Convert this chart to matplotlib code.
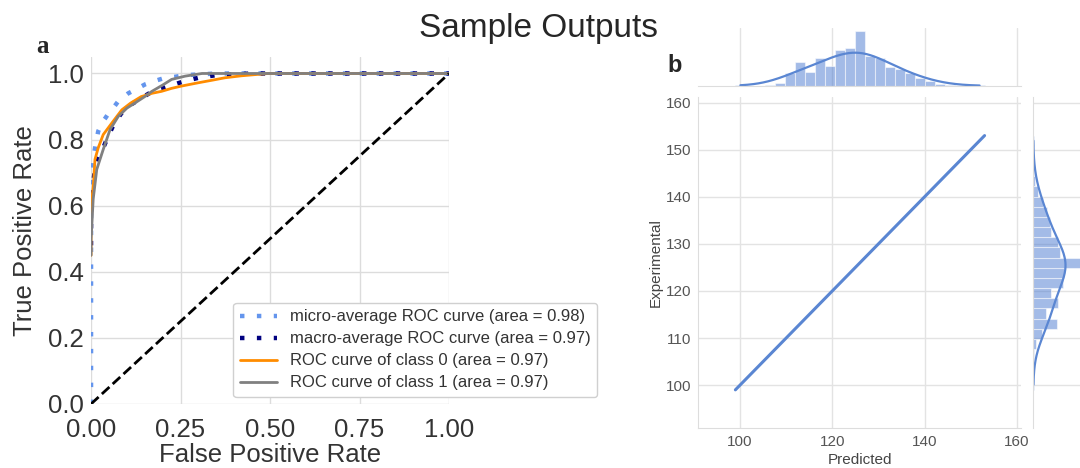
import numpy as np
import seaborn as sns
from matplotlib import pyplot as plt

sns.set_style('whitegrid')
plt.rcParams['font.family'] = ['Liberation Sans', 'DejaVu Sans']

# --- panel a : ROC curves ---
micro_fpr = [0.0, 0.0, 0.0, 0.004, 0.006, 0.012, 0.02, 0.03, 0.04, 0.053, 0.065, 0.076,
             0.09, 0.104, 0.125, 0.151, 0.18, 0.207, 0.235, 0.263, 0.3, 0.35, 0.45, 1.0]
micro_tpr = [0.0, 0.5, 0.62, 0.69, 0.74, 0.78, 0.825, 0.85, 0.865, 0.886, 0.9, 0.916,
             0.928, 0.94, 0.952, 0.967, 0.978, 0.987, 0.99, 0.995, 0.997, 1.0, 1.0, 1.0]

macro_fpr = [0.0, 0.0, 0.005, 0.011, 0.02, 0.03, 0.048, 0.065, 0.085, 0.11, 0.14, 0.17,
             0.2, 0.253, 0.3, 0.35, 0.45, 1.0]
macro_tpr = [0.48, 0.6, 0.66, 0.71, 0.74, 0.765, 0.81, 0.85, 0.88, 0.905, 0.925, 0.945,
             0.955, 0.974, 0.987, 0.995, 1.0, 1.0]

c0_fpr = [0.0, 0.0, 0.003, 0.006, 0.011, 0.02, 0.034, 0.058, 0.086, 0.11, 0.14, 0.17,
          0.197, 0.225, 0.253, 0.3, 0.34, 0.374, 0.42, 0.495, 1.0]
c0_tpr = [0.45, 0.6, 0.63, 0.654, 0.74, 0.775, 0.815, 0.85, 0.89, 0.91, 0.93, 0.94,
          0.946, 0.955, 0.962, 0.972, 0.98, 0.987, 0.993, 1.0, 1.0]

c1_fpr = [0.0, 0.0, 0.002, 0.006, 0.016, 0.034, 0.053, 0.076, 0.1, 0.123, 0.15, 0.17,
          0.2, 0.225, 0.263, 0.31, 1.0]
c1_tpr = [0.45, 0.5, 0.537, 0.62, 0.71, 0.77, 0.83, 0.87, 0.895, 0.911, 0.93, 0.946,
          0.965, 0.982, 0.992, 1.0, 1.0]

auc_micro, auc_macro, auc_c0, auc_c1 = 0.98, 0.97, 0.97, 0.97

# --- panel b : predicted vs experimental ---
pred_line = [99, 153]
exp_line = [99, 153]
bin_edges = np.linspace(99, 153, 26)
pred_counts = [1, 0, 0, 1, 3, 13, 23, 14, 27, 20, 35, 37, 54, 29, 27, 19, 17, 13, 8, 5, 2, 1, 0, 0, 1]
exp_counts = [1, 0, 0, 1, 3, 9, 24, 13, 25, 18, 30, 31, 55, 27, 25, 18, 17, 14, 10, 5, 2, 1, 0, 0, 1]

blue = '#5a86d2'
bar_blue = '#4878d0'
dots = (0, (1, 2.8))

fig = plt.figure(figsize=(10.8, 4.68), dpi=100)

#Plot a
ax = fig.add_axes([0.0843, 0.1368, 0.3315, 0.7415])
ax.plot(micro_fpr, micro_tpr, color='cornflowerblue', linestyle=dots, linewidth=3.2,
        label='micro-average ROC curve (area = {0:0.2f})'.format(auc_micro))
ax.plot(macro_fpr, macro_tpr, color='navy', linestyle=dots, linewidth=3.2,
        label='macro-average ROC curve (area = {0:0.2f})'.format(auc_macro))
ax.plot(c0_fpr, c0_tpr, color='darkorange', linewidth=2,
        label='ROC curve of class 0 (area = {0:0.2f})'.format(auc_c0))
ax.plot(c1_fpr, c1_tpr, color='gray', linewidth=2,
        label='ROC curve of class 1 (area = {0:0.2f})'.format(auc_c1))
ax.plot([0, 1], [0, 1], 'k--', linewidth=2)
ax.set_xlim([0.0, 1.0])
ax.set_ylim([0.0, 1.05])
ax.set_xticks([0, 0.25, 0.5, 0.75, 1.0])
ax.set_yticks([0, 0.2, 0.4, 0.6, 0.8, 1.0])
ax.grid(color='#dcdcdc', linewidth=1)
for s in ax.spines.values():
    s.set_visible(False)
ax.tick_params(labelsize=18.5, colors='#333333', length=0)
ax.tick_params(axis='x', pad=10)
ax.tick_params(axis='y', pad=5)
ax.set_xlabel('False Positive Rate', fontsize=18.5, color='#333333', labelpad=1)
ax.set_ylabel('True Positive Rate', fontsize=18.5, color='#333333', labelpad=8)
leg = ax.legend(loc='lower left', bbox_to_anchor=(0.397, 0.02), borderaxespad=0,
                fontsize=12, labelspacing=0.42, handlelength=2.2, handletextpad=0.8,
                frameon=True, framealpha=1, edgecolor='#d0d0d0', fancybox=True)
for t in leg.get_texts():
    t.set_color('#333333')

#Plot b
ax_main = fig.add_axes([0.6463, 0.0855, 0.2991, 0.7073])
ax_top = fig.add_axes([0.6463, 0.8162, 0.2991, 0.1239], sharex=ax_main)
ax_right = fig.add_axes([0.9565, 0.0855, 0.0537, 0.7073], sharey=ax_main)

ax_main.plot(pred_line, exp_line, color=blue, linewidth=2.2)
ax_main.set_xlim(90.9, 160.9)
ax_main.set_ylim(90.9, 161.2)
ax_main.set_xticks([100, 120, 140, 160])
ax_main.set_yticks([100, 110, 120, 130, 140, 150, 160])
ax_main.grid(color='#e3e3e3', linewidth=1)
ax_main.tick_params(labelsize=11, colors='#555555', length=0, pad=5)
ax_main.set_xlabel('Predicted', fontsize=11, color='#444444', labelpad=3)
ax_main.set_ylabel('Experimental', fontsize=11, color='#444444', labelpad=2)
sns.despine(ax=ax_main)

centres = (bin_edges[:-1] + bin_edges[1:]) / 2
ax_top.hist(centres, bins=bin_edges, weights=pred_counts, density=True,
            color=bar_blue, alpha=0.5, edgecolor='white', linewidth=0.8)
sns.kdeplot(x=centres, weights=pred_counts, cut=0, ax=ax_top, color=blue, linewidth=1.6)
ax_top.set_ylim(0, None)
ax_top.yaxis.grid(False)
ax_top.xaxis.grid(color='#e3e3e3', linewidth=1)
ax_top.tick_params(labelbottom=False, labelleft=False, length=0)
ax_top.set_xlabel('')
ax_top.set_ylabel('')
sns.despine(ax=ax_top, left=True)

ax_right.hist(centres, bins=bin_edges, weights=exp_counts, density=True,
              orientation='horizontal', color=bar_blue, alpha=0.5, edgecolor='white', linewidth=0.8)
sns.kdeplot(y=centres, weights=exp_counts, cut=0, bw_adjust=0.8, ax=ax_right,
            color=blue, linewidth=1.6)
ax_right.set_xlim(0, None)
ax_right.xaxis.grid(False)
ax_right.yaxis.grid(color='#e3e3e3', linewidth=1)
ax_right.tick_params(labelbottom=False, labelleft=False, length=0)
ax_right.set_xlabel('')
ax_right.set_ylabel('')
sns.despine(ax=ax_right, bottom=True)
for a in (ax_main, ax_top, ax_right):
    for s in a.spines.values():
        s.set_color('#dddddd')

fig.text(0.499, 0.921, 'Sample Outputs', ha='center', va='baseline', fontsize=24)
fig.text(0.034, 0.887, 'a', fontsize=18, fontweight='bold', family='Liberation Serif', va='baseline')
fig.text(0.618, 0.846, 'b', fontsize=17, fontweight='bold', va='baseline')

fig.savefig('out.png', dpi=100)
